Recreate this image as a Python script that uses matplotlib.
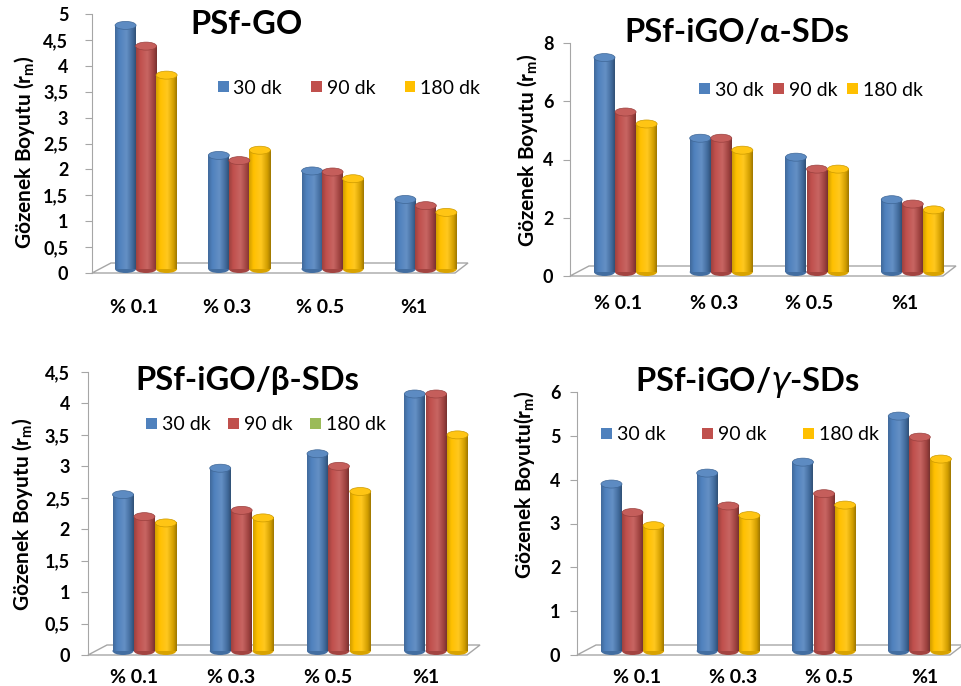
import numpy as np
import matplotlib
matplotlib.use('Agg')
import matplotlib.pyplot as plt
from matplotlib.patches import Ellipse, Polygon, Patch
from matplotlib.colors import to_rgb, LinearSegmentedColormap

plt.rcParams['font.family'] = ['Lato', 'DejaVu Sans']

# data
categories = ['% 0.1', '% 0.3', '% 0.5', '%1']
times = ['30 dk', '90 dk', '180 dk']

go_30 = [4.78, 2.27, 1.97, 1.42]
go_90 = [4.38, 2.17, 1.95, 1.30]
go_180 = [3.82, 2.37, 1.82, 1.17]

alpha_30 = [7.50, 4.73, 4.08, 2.62]
alpha_90 = [5.63, 4.73, 3.67, 2.47]
alpha_180 = [5.22, 4.32, 3.67, 2.27]

beta_30 = [2.55, 2.97, 3.20, 4.15]
beta_90 = [2.20, 2.30, 3.00, 4.15]
beta_180 = [2.10, 2.18, 2.60, 3.50]

gamma_30 = [3.90, 4.15, 4.40, 5.45]
gamma_90 = [3.25, 3.40, 3.68, 4.97]
gamma_180 = [2.95, 3.18, 3.42, 4.47]

go_ticks = [0, 0.5, 1, 1.5, 2, 2.5, 3, 3.5, 4, 4.5, 5]
alpha_ticks = [0, 2, 4, 6, 8]
beta_ticks = [0, 0.5, 1, 1.5, 2, 2.5, 3, 3.5, 4, 4.5]
gamma_ticks = [0, 1, 2, 3, 4, 5, 6]

colors = ['#4F81BD', '#C0504D', '#FFC000']
W, H = 962, 686

panels = [
    dict(title='PSf-GO', series=[go_30, go_90, go_180], ticks=go_ticks,
         box=(92, 465, 273, 14), title_xy=(247, 25),
         leg_xy=(349, 88), colspace=1.5, leg_colors=colors,
         ylabel='Gözenek Boyutu (r$_\\mathregular{m}$)', ylab_xy=(25, 152),
         lab_off=-0.05, pad=19, ypad=12),
    dict(title='PSf-iGO/α-SDs', series=[alpha_30, alpha_90, alpha_180], ticks=alpha_ticks,
         box=(570, 953, 276, 43), title_xy=(737, 33),
         leg_xy=(811, 90), colspace=0.5, leg_colors=colors,
         ylabel='Gözenek Boyutu (r$_\\mathregular{m}$)', ylab_xy=(528, 150),
         lab_off=0.0, pad=14, ypad=7),
    dict(title='PSf-iGO/β-SDs', series=[beta_30, beta_90, beta_180], ticks=beta_ticks,
         box=(88, 477, 655, 372), title_xy=(247, 380),
         leg_xy=(266, 425), colspace=0.9, leg_colors=colors[:2] + ['#9BBB59'],
         ylabel='Gözenek Boyutu (r$_\\mathregular{m}$)', ylab_xy=(23, 514),
         lab_off=-0.03, pad=10, ypad=8),
    dict(title='PSf-iGO/$\\mathit{γ}$-SDs', series=[gamma_30, gamma_90, gamma_180], ticks=gamma_ticks,
         box=(577, 960, 655, 392), title_xy=(747, 383),
         leg_xy=(740, 435), colspace=1.9, leg_colors=colors,
         ylabel='Gözenek Boyutu(r$_\\mathregular{m}$)', ylab_xy=(525, 485),
         lab_off=0.13, pad=10, ypad=7),
]


def tick_text(v):
    s = ('%g' % v)
    return s.replace('.', ',')


def cylinder(ax, x, h, w, color, eh):
    c = np.array(to_rgb(color))
    light = c + (1 - c) * 0.12
    cmap = LinearSegmentedColormap.from_list(
        'cyl', [(0.0, c * 0.82), (0.2, c), (0.55, light), (0.85, c * 0.82), (1.0, c * 0.62)])
    grad = np.linspace(0, 1, 64).reshape(1, -1)
    ax.add_patch(Ellipse((x, eh * 0.5), w, eh, facecolor=c * 0.85, edgecolor='none', zorder=1.9))
    ax.imshow(grad, cmap=cmap, extent=(x - w / 2, x + w / 2, eh * 0.5, h),
              aspect='auto', origin='lower', zorder=2, interpolation='bilinear')
    ax.add_patch(Ellipse((x, h), w, eh, facecolor=c + (1 - c) * 0.08,
                         edgecolor=c * 0.8, lw=0.5, zorder=2.1))


fig = plt.figure(figsize=(W / 100, H / 100), dpi=100)

for p in panels:
    x0, x1, y0, y1 = p['box']
    ax = fig.add_axes([x0 / W, 1 - y0 / H, (x1 - x0) / W, (y0 - y1) / H])
    ytop = p['ticks'][-1]
    ppu = (y0 - y1) / ytop
    ppx = (x1 - x0) / 4.0
    eh = 8 / ppu
    w = 21 / ppx

    # floor
    d = 10 / ppu
    floor = Polygon([(-0.5, 0), (-0.5 + 19 / ppx, d), (3.5 + 3 / ppx, d), (3.5 - 10 / ppx, 0)],
                    closed=True, facecolor='white', edgecolor='#A6A6A6', lw=1.0,
                    clip_on=False, zorder=1)
    ax.add_patch(floor)

    for k, vals in enumerate(p['series']):
        for i, v in enumerate(vals):
            xc = i + 0.08 + (k - 1) * 0.22
            cylinder(ax, xc, v, w, colors[k], eh)

    ax.set_xlim(-0.5, 3.5)
    ax.set_ylim(0, ytop)
    ax.set_yticks(p['ticks'])
    ax.set_yticklabels([tick_text(t) for t in p['ticks']], fontsize=13, fontweight='bold')
    ax.set_xticks([i + p['lab_off'] for i in range(4)])
    ax.set_xticklabels(categories, fontsize=14, fontweight='bold')
    ax.tick_params(axis='x', length=0, pad=p['pad'])
    ax.tick_params(axis='y', length=5, color='#A6A6A6', pad=p['ypad'])
    for s in ['top', 'right', 'bottom']:
        ax.spines[s].set_visible(False)
    ax.spines['left'].set_color('#A6A6A6')
    ax.set_facecolor('none')

    fig.text(p['title_xy'][0] / W, 1 - p['title_xy'][1] / H, p['title'],
             fontsize=23.5, fontweight='bold', ha='center', va='center')
    fig.text(p['ylab_xy'][0] / W, 1 - p['ylab_xy'][1] / H, p['ylabel'],
             fontsize=15, fontweight='bold', rotation=90, ha='center', va='center')

    handles = [Patch(facecolor=c, edgecolor='none') for c in p['leg_colors']]
    fig.legend(handles, times, loc='center', ncol=3, frameon=False,
               bbox_to_anchor=(p['leg_xy'][0] / W, 1 - p['leg_xy'][1] / H),
               fontsize=14, handlelength=0.55, handleheight=0.55,
               handletextpad=0.25, columnspacing=p['colspace'])

fig.savefig('out.png', dpi=100)
